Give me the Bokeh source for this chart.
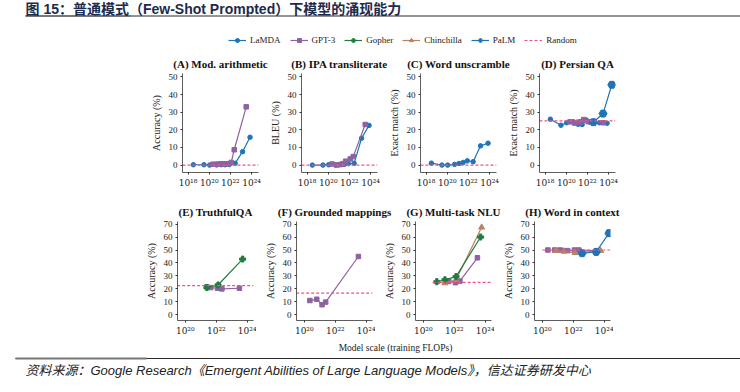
import math
from bokeh.plotting import figure
from bokeh.layouts import column, row
from bokeh.models import (Range1d, FixedTicker, CustomJSTickFormatter, Legend, LegendItem,
                          Label, Spacer, ColumnDataSource)
from bokeh.embed import file_html
from bokeh.resources import INLINE

NaN = float("nan")

# ---------------- data (training FLOPs, scores in %) ----------------
LAMDA_FLOPS = [3.2e18, 3.2e19, 1.1e20, 5.0e20, 1.3e21, 3.2e21, 7.9e21, 2.8e22, 1.4e23, 7.1e23]
GPT3_FLOPS = [2.3e20, 6.4e20, 1.4e21, 2.4e21, 4.4e21, 1.2e22, 2.3e22, 3.1e23]
GOPHER_FLOPS = [7.5e20, 2.5e21, 1.3e22, 5.0e23]
CHINCHILLA_FLOPS = [7.5e20, 2.5e21, 1.3e22, 5.8e23]
PALM_FLOPS = [3.7e22, 3.0e23, 2.0e24]

PANEL_TITLES = ["(A) Mod. arithmetic", "(B) IPA transliterate", "(C) Word unscramble",
                "(D) Persian QA", "(E) TruthfulQA", "(F) Grounded mappings",
                "(G) Multi-task NLU", "(H) Word in context"]
Y_LABELS = ["Accuracy (%)", "BLEU (%)", "Exact match (%)", "Exact match (%)",
            "Accuracy (%)", "Accuracy (%)", "Accuracy (%)", "Accuracy (%)"]

A_LAMDA = [0.2, 0.2, 0.0, 0.1, 0.2, 0.2, 0.3, 1.0, 7.6, 15.8]
A_GPT3 = [0.5, 0.6, 0.7, 0.6, 0.7, 1.5, 8.7, 33.0]
B_LAMDA = [0.0, 0.0, 0.2, 0.0, 0.3, 0.4, 0.8, 1.0, 15.2, 22.5]
B_GPT3 = [0.6, 0.1, 0.3, 0.8, 2.2, 3.5, 4.8, 23.0]
C_LAMDA = [1.1, 0.0, 0.0, 0.4, 0.9, 1.5, 2.4, 1.9, 10.9, 12.4]
D_LAMDA = [26.0, 22.6, 24.0, 24.5, 23.1, 23.0, 25.5, 24.0, 24.0, 23.7]
D_GPT3 = [24.5, 23.8, 24.3, 24.5, 25.8, 24.6, 24.3, 24.0]
D_PALM = [24.3, 29.2, 45.5]
E_GOPHER = [NaN, 21.0, 23.0, 43.0]
E_GPT3 = [NaN, NaN, NaN, 21.5, 21.0, 20.5, 20.0, 20.5]
F_GPT3 = [11.0, 12.0, 7.8, 9.8, NaN, NaN, NaN, 45.0]
G_GOPHER = [25.5, 27.0, 29.5, 60.0]
G_CHINCHILLA = [25.5, 24.5, 27.0, 67.5]
G_GPT3 = [NaN, NaN, NaN, NaN, 25.8, 24.8, 26.0, 44.0]
H_GPT3 = [50.0, 50.0, 50.0, 49.5, 49.5, 50.0, 50.0, 49.5]
H_CHINCHILLA = [49.5, 49.0, 47.8, 49.5]
H_PALM = [47.5, 48.5, 63.0]

RANDOM_BASELINE = [0.0, 0.0, 0.0, 25.0, 22.5, 16.7, 25.0, 50.0]
RANDOM_FROM = [3.0e17, 3.0e17, 3.0e17, 3.0e17, 3.0e19, 3.0e19, 4.0e20, 1.0e20]

TOP_Y_TICKS = [0, 10, 20, 30, 40, 50]
BOTTOM_Y_TICKS = [0, 10, 20, 30, 40, 50, 60, 70]
TOP_X_TICKS = [1e18, 1e20, 1e22, 1e24]
BOTTOM_X_TICKS = [1e20, 1e22, 1e24]

SERIES_NAMES = ["LaMDA", "GPT-3", "Gopher", "Chinchilla", "PaLM", "Random"]

# ---------------- styles ----------------
C_BLUE = "#1f74b8"
C_PURPLE = "#8c63a0"
C_GREEN = "#1e7d3e"
C_BROWN = "#b58462"
C_RANDOM = "#f0528c"
STYLE = {
    "LaMDA": dict(color=C_BLUE, marker="circle", size=4.5),
    "GPT-3": dict(color=C_PURPLE, marker="square", size=4.5),
    "Gopher": dict(color=C_GREEN, marker="plus", size=6),
    "Chinchilla": dict(color=C_BROWN, marker="triangle", size=6),
    "PaLM": dict(color=C_BLUE, marker="hex", size=8),
}
SERIF = "Liberation Serif"
AXIS_COLOR = "#333333"
W = 740
FRAME_W, FRAME_H, BL, BR = 76, 99, 40, 3
TOP_LEFT0, BOT_LEFT0, STEP = 182, 177, 119

SUP = CustomJSTickFormatter(code="""
const s = {'0':'\u2070','1':'\u00b9','2':'\u00b2','3':'\u00b3','4':'\u2074','5':'\u2075','6':'\u2076','7':'\u2077','8':'\u2078','9':'\u2079'};
const e = Math.round(Math.log10(tick)).toString();
return '10' + e.split('').map(c => s[c]).join('');
""")


def blank(height):
    f = figure(width=W, height=height, x_range=Range1d(0, W), y_range=Range1d(0, height),
               x_axis_location=None, y_axis_location=None, min_border=0,
               output_backend="svg", toolbar_location=None)
    f.grid.visible = False
    f.outline_line_color = None
    f.background_fill_color = None
    f.border_fill_color = None
    return f


def add_titles(f, left0, first, center_y):
    for k in range(4):
        f.add_layout(Label(x=left0 + k * STEP + FRAME_W / 2, y=center_y, text=PANEL_TITLES[first + k],
                           text_font=SERIF, text_font_style="bold", text_font_size="11px",
                           text_color="#111111", text_align="center", text_baseline="middle"))


def add_series(p, xs, ys, name):
    st = STYLE[name]
    pts = [(x, y) for x, y in zip(xs, ys) if not math.isnan(y)]
    src = ColumnDataSource(dict(x=[a for a, _ in pts], y=[b for _, b in pts]))
    p.line("x", "y", source=src, line_color=st["color"], line_width=1.2)
    p.scatter("x", "y", source=src, marker=st["marker"], size=st["size"],
              fill_color=st["color"], line_color=st["color"])


def panel(idx, top, series):
    if top:
        xr = Range1d(10 ** 17.48, 10 ** 24.65)
        yr = Range1d(-4.2, 51.9)
        yt, xt = TOP_Y_TICKS, TOP_X_TICKS
        mbt, mbb = 2, 23
    else:
        xr = Range1d(10 ** 19.5, 10 ** 24.4)
        yr = Range1d(-4.4, 72.0)
        yt, xt = BOTTOM_Y_TICKS, BOTTOM_X_TICKS
        mbt, mbb = 3, 20
    p = figure(x_axis_type="log", x_range=xr, y_range=yr, frame_width=FRAME_W, frame_height=FRAME_H,
               min_border_left=BL, min_border_right=BR, min_border_top=mbt, min_border_bottom=mbb,
               output_backend="svg", toolbar_location=None)
    p.outline_line_color = None
    p.grid.visible = False
    p.background_fill_color = None
    p.border_fill_color = None
    p.xaxis.ticker = FixedTicker(ticks=xt)
    p.xaxis.formatter = SUP
    p.yaxis.ticker = FixedTicker(ticks=yt)
    p.yaxis.axis_label = Y_LABELS[idx]
    for ax in (p.xaxis, p.yaxis):
        ax.axis_line_color = AXIS_COLOR
        ax.axis_line_width = 0.8
        ax.major_tick_line_color = AXIS_COLOR
        ax.major_tick_in = 0
        ax.major_tick_out = 2
        ax.minor_tick_line_color = None
        ax.major_label_text_font = SERIF
        ax.major_label_text_font_size = "9px"
        ax.major_label_text_color = "#222222"
        ax.major_label_standoff = 3
    p.xaxis.major_label_text_font = "DejaVu Serif"
    p.xaxis.major_label_text_font_size = "9px"
    p.yaxis.axis_label_text_font = SERIF
    p.yaxis.axis_label_text_font_style = "normal"
    p.yaxis.axis_label_text_font_size = "10px"
    p.yaxis.axis_label_text_color = "#222222"
    p.yaxis.axis_label_standoff = 4
    for xs, ys, name in series:
        add_series(p, xs, ys, name)
    src = ColumnDataSource(dict(x=[RANDOM_FROM[idx], xr.end], y=[RANDOM_BASELINE[idx]] * 2))
    p.line("x", "y", source=src, line_color=C_RANDOM, line_width=1.2, line_dash="3 2")
    return p


panels = [
    panel(0, True, [(LAMDA_FLOPS, A_LAMDA, "LaMDA"), (GPT3_FLOPS, A_GPT3, "GPT-3")]),
    panel(1, True, [(LAMDA_FLOPS, B_LAMDA, "LaMDA"), (GPT3_FLOPS, B_GPT3, "GPT-3")]),
    panel(2, True, [(LAMDA_FLOPS, C_LAMDA, "LaMDA")]),
    panel(3, True, [(LAMDA_FLOPS, D_LAMDA, "LaMDA"), (GPT3_FLOPS, D_GPT3, "GPT-3"),
                    (PALM_FLOPS, D_PALM, "PaLM")]),
    panel(4, False, [(GPT3_FLOPS, E_GPT3, "GPT-3"), (GOPHER_FLOPS, E_GOPHER, "Gopher")]),
    panel(5, False, [(GPT3_FLOPS, F_GPT3, "GPT-3")]),
    panel(6, False, [(GPT3_FLOPS, G_GPT3, "GPT-3"), (CHINCHILLA_FLOPS, G_CHINCHILLA, "Chinchilla"),
                     (GOPHER_FLOPS, G_GOPHER, "Gopher")]),
    panel(7, False, [(GPT3_FLOPS, H_GPT3, "GPT-3"), (CHINCHILLA_FLOPS, H_CHINCHILLA, "Chinchilla"),
                     (PALM_FLOPS, H_PALM, "PaLM")]),
]

# ---------------- header (title + legend + row-1 titles) ----------------
HH = 71
header = blank(HH)
header.add_layout(Label(x=25, y=HH - 8, text="图 15：普通模式（Few-Shot Prompted）下模型的涌现能力",
                        text_font="Liberation Sans, Noto Sans CJK SC", text_font_style="bold",
                        text_font_size="14px", text_color="#1c2b4e", text_baseline="middle"))
header.segment(x0=[25], y0=[HH - 15.5], x1=[W], y1=[HH - 15.5], line_color="#2a2a2a", line_width=1)
header.segment(x0=[25], y0=[HH - 15.5], x1=[130], y1=[HH - 15.5], line_color="#777777", line_width=2)

items = []
for name in SERIES_NAMES:
    if name == "Random":
        r = header.line(x=[NaN], y=[NaN], line_color=C_RANDOM, line_width=1.2, line_dash="3 2")
        items.append(LegendItem(label=name, renderers=[r]))
    else:
        st = STYLE[name]
        r1 = header.line(x=[NaN], y=[NaN], line_color=st["color"], line_width=1.2)
        r2 = header.scatter(x=[NaN], y=[NaN], marker=st["marker"], size=st["size"],
                            fill_color=st["color"], line_color=st["color"])
        items.append(LegendItem(label=name, renderers=[r1, r2]))
legend = Legend(items=items, location=(228, HH - 45), orientation="horizontal", padding=0, margin=0,
                border_line_color=None, background_fill_alpha=0, glyph_width=18, glyph_height=10,
                label_standoff=4, spacing=9, label_text_font=SERIF, label_text_font_size="9px",
                label_height=10, label_text_color="#222222")
header.add_layout(legend)
add_titles(header, TOP_LEFT0, 0, HH - 63.5)

# ---------------- strip with row-2 titles (page y 195..218) ----------------
SH = 23
strip = blank(SH)
add_titles(strip, BOT_LEFT0, 4, SH - (211.5 - 195))

# ---------------- footer (page y 340..392) ----------------
FH = 52
footer = blank(FH)
footer.add_layout(Label(x=395, y=FH - 7.5, text="Model scale (training FLOPs)", text_font=SERIF,
                        text_font_size="9.5px", text_color="#222222", text_align="center",
                        text_baseline="middle"))
footer.segment(x0=[15], y0=[FH - 18], x1=[W], y1=[FH - 18], line_color="#2a2a2a", line_width=1)
footer.segment(x0=[15], y0=[FH - 18], x1=[146], y1=[FH - 18], line_color="#777777", line_width=2)
footer.add_layout(Label(x=25, y=FH - 30, text="资料来源：Google Research《Emergent Abilities of Large Language Models》，信达证券研发中心",
                        text_font="Liberation Sans, Noto Sans CJK SC", text_font_style="italic",
                        text_font_size="13px", text_color="#222222", text_baseline="middle"))

row1 = row(Spacer(width=TOP_LEFT0 - BL, height=195 - HH), *panels[:4])
row2 = row(Spacer(width=BOT_LEFT0 - BL, height=340 - 195 - SH), *panels[4:])
layout = column(header, row1, strip, row2, footer)

open("out.html", "w").write(file_html(layout, INLINE))
